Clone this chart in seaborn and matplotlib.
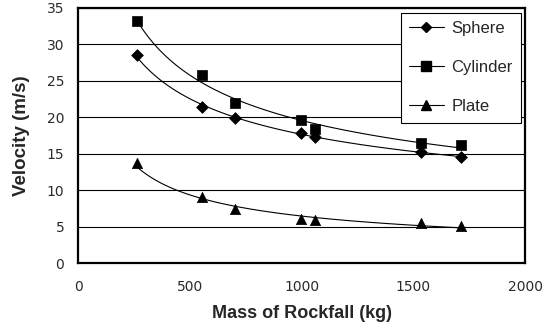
import numpy as np
import pandas as pd
import matplotlib.pyplot as plt
from matplotlib.lines import Line2D
import seaborn as sns

# values
mass = [262, 555, 700, 995, 1060, 1533, 1712]
sphere = [28.6, 21.4, 19.9, 17.8, 17.3, 15.3, 14.6]
cylinder = [33.2, 25.8, 22.0, 19.6, 18.4, 16.5, 16.2]
plate = [13.8, 9.1, 7.4, 6.0, 5.9, 5.5, 5.1]

shapes = ['Sphere', 'Cylinder', 'Plate']
markers = {'Sphere': 'D', 'Cylinder': 's', 'Plate': '^'}
sizes = {'Sphere': 36, 'Cylinder': 60, 'Plate': 55}

df = pd.DataFrame({
    'mass': mass * 3,
    'velocity': sphere + cylinder + plate,
    'shape': ['Sphere'] * 7 + ['Cylinder'] * 7 + ['Plate'] * 7,
})

sns.set_style('white')
plt.rcParams['font.family'] = ['Liberation Sans', 'DejaVu Sans']

fig = plt.figure(figsize=(5.54, 3.31), dpi=100)
ax = fig.add_axes([0.141, 0.205, 0.807, 0.771])

# gridlines
ax.set_axisbelow(True)
ax.yaxis.grid(True, color='black', linewidth=0.8)

# power trend lines like a spreadsheet trendline
for shape in shapes:
    sub = df[df['shape'] == shape]
    b, a = np.polyfit(np.log(sub['mass']), np.log(sub['velocity']), 1)
    xs = np.linspace(sub['mass'].min(), sub['mass'].max(), 100)
    ax.plot(xs, np.exp(a) * xs ** b, color='black', linewidth=0.8, zorder=2)

for shape in shapes:
    sub = df[df['shape'] == shape]
    sns.scatterplot(data=sub, x='mass', y='velocity', marker=markers[shape],
                    s=sizes[shape], color='black', edgecolor='black',
                    linewidth=0.5, ax=ax, zorder=3, legend=False)

ax.set_xlim(0, 2000)
ax.set_ylim(0, 35)
ax.set_xticks([0, 500, 1000, 1500, 2000])
ax.set_yticks(range(0, 36, 5))
ax.tick_params(axis='both', direction='in', length=4, width=0.8,
               labelsize=10, colors='black')
ax.tick_params(axis='y', pad=10)
ax.tick_params(axis='x', pad=12)
for lab in ax.get_xticklabels() + ax.get_yticklabels():
    lab.set_color('#2a2a2a')
    lab.set_family('DejaVu Sans')

for sp in ax.spines.values():
    sp.set_color('black')
    sp.set_linewidth(1.6)

ax.set_xlabel('Mass of Rockfall (kg)', fontsize=13, fontweight='bold', labelpad=8)
ax.set_ylabel('Velocity (m/s)', fontsize=13.5, fontweight='bold', labelpad=12)

handles = [Line2D([], [], color='black', linewidth=0.8, marker=markers[s],
                  markersize=6.5 if s != 'Sphere' else 5.5) for s in shapes]
leg = ax.legend(handles, shapes, loc='upper right', bbox_to_anchor=(0.991, 0.982),
                fontsize=12, frameon=True, fancybox=False, handlelength=2.1,
                labelspacing=1.45, borderpad=0.5, handletextpad=0.45,
                borderaxespad=0)
leg.get_frame().set_edgecolor('black')
leg.get_frame().set_linewidth(0.8)
leg.get_frame().set_alpha(1)

fig.savefig('out.png', dpi=100)
plt.close()
